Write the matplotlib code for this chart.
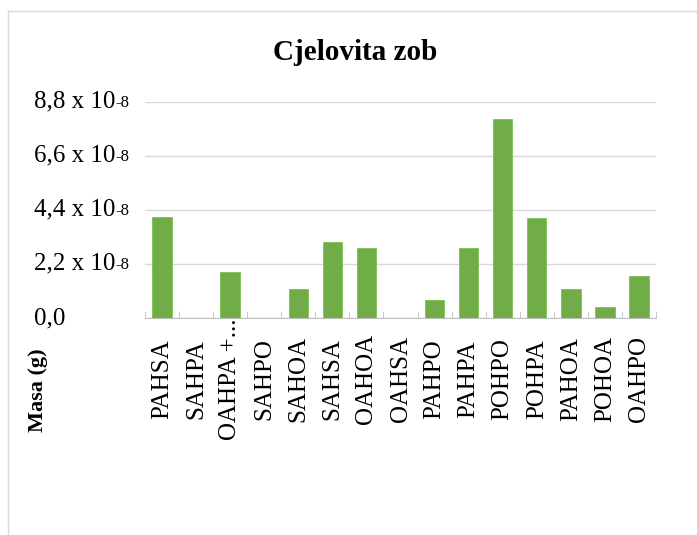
import matplotlib.pyplot as plt
from matplotlib import transforms
from matplotlib.lines import Line2D

plt.rcParams['font.family'] = ['Liberation Serif', 'DejaVu Serif']

categories = ['PAHSA', 'SAHPA', 'OAHPA +...', 'SAHPO', 'SAHOA', 'SAHSA', 'OAHOA', 'OAHSA',
              'PAHPO', 'PAHPA', 'POHPO', 'POHPA', 'PAHOA', 'POHOA', 'OAHPO']
masa = [4.12, 0, 1.85, 0, 1.19, 3.07, 2.83, 0, 0.72, 2.83, 8.09, 4.05, 1.19, 0.46, 1.69]  # x 10^-8 g

ytick_vals = [0, 2.2, 4.4, 6.6, 8.8]
ytick_main = ['0,0', '2,2 x 10', '4,4 x 10', '6,6 x 10', '8,8 x 10']
ytick_exp = ['', '-8', '-8', '-8', '-8']

W, H = 697, 535
fig = plt.figure(figsize=(W / 100, H / 100), dpi=100)
ax = fig.add_axes([145 / W, 1 - 318 / H, (656 - 145) / W, (318 - 101.5) / H])

x = list(range(len(categories)))
ax.bar(x, masa, width=0.57, color='#70AD47', edgecolor='#7cc14f', linewidth=0.6, zorder=3)

ax.set_xlim(-0.5, len(categories) - 0.5)
ax.set_ylim(0, 8.8)

# grid
ax.set_yticks(ytick_vals)
ax.set_yticklabels([])
ax.tick_params(axis='y', length=0)
ax.grid(axis='y', color='#d9d9d9', linewidth=1, zorder=0)

for s in ['top', 'right', 'left']:
    ax.spines[s].set_visible(False)
ax.spines['bottom'].set_color('#bfbfbf')

# x ticks: labels at centers, small marks at category boundaries
ax.set_xticks(x)
ax.set_xticklabels(categories, rotation=90, fontsize=18, ha='center', va='center')
ax.tick_params(axis='x', which='major', length=0, pad=44)
ax.set_xticks([i - 0.5 for i in range(len(categories) + 1)], minor=True)
ax.tick_params(axis='x', which='minor', direction='in', length=5, color='#bfbfbf')

# y tick labels with small exponent
trans = transforms.blended_transform_factory(fig.transFigure, ax.transData)
for v, m, e in zip(ytick_vals, ytick_main, ytick_exp):
    t = ax.text(34 / W, v, m, transform=trans, ha='left', va='center', fontsize=18)
    if e:
        ax.annotate(e, xy=(1, 0.08), xycoords=t, ha='left', va='bottom', fontsize=12)

fig.text(355 / W, 1 - 52 / H, 'Cjelovita zob', ha='center', va='center',
         fontsize=21, fontweight='bold')
fig.text(38 / W, 1 - 390 / H, 'Masa (g)', rotation=90, ha='center', va='center',
         fontsize=16, fontweight='bold')

# chart area border
fig.add_artist(Line2D([8 / W, 1], [1 - 11 / H, 1 - 11 / H], transform=fig.transFigure,
                      color='#d9d9d9', linewidth=1))
fig.add_artist(Line2D([8 / W, 8 / W], [0, 1 - 11 / H], transform=fig.transFigure,
                      color='#d9d9d9', linewidth=1))

fig.savefig('out.png', dpi=100)
